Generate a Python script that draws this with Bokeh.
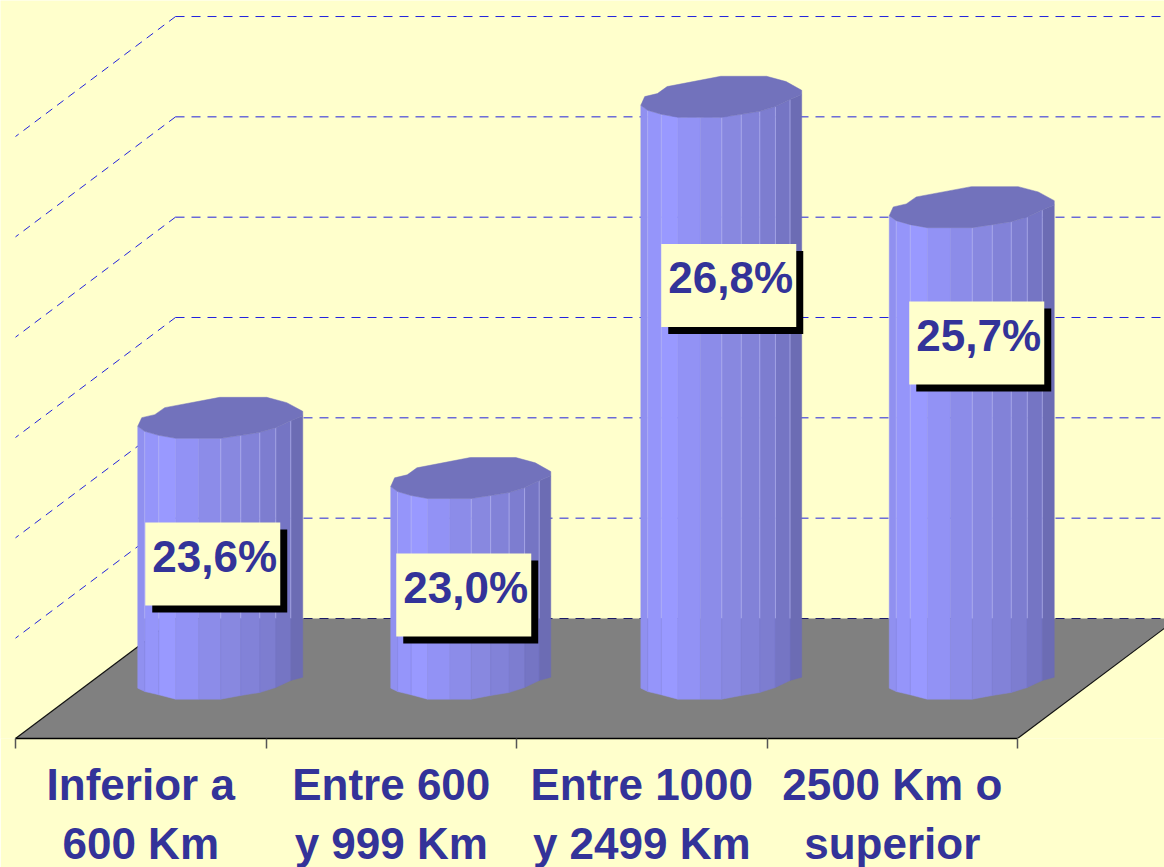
from bokeh.plotting import figure
from bokeh.models import FixedTicker, Range1d
from bokeh.core.properties import value
from bokeh.embed import file_html
from bokeh.resources import INLINE

CATEGORIES = ["Inferior a\n600 Km", "Entre 600\ny 999 Km", "Entre 1000\ny 2499 Km", "2500 Km o\nsuperior"]
VALUES = [23.6, 23.0, 26.8, 25.7]
VALUE_LABELS = ["23,6%", "23,0%", "26,8%", "25,7%"]
GRID_VALUES = [22, 23, 24, 25, 26, 27]
AXIS_FLOOR = 21

# ---- layout (pixels per data unit, and 3D projection) ----
W, H, FRAME_H = 1164, 867, 738
PX_X, PX_Y = 250.5, 100.33
LEFT_PX, FLOOR_BACK_PX = 15, 618
DEPTH_X, DEPTH_Y = 160 / PX_X, 120 / PX_Y
dx = lambda px: px / PX_X
dy = lambda px: px / PX_Y

x0 = -0.5 - dx(LEFT_PX)
x_range = Range1d(x0, x0 + dx(W))
y_top = AXIS_FLOOR + dy(FLOOR_BACK_PX)
y_range = Range1d(y_top - dy(FRAME_H), y_top)

BG = "#FFFFCC"
INK = "#333399"
GRID = "#2222DD"
FONT = value("Liberation Sans")

p = figure(width=W, height=H, frame_width=W, frame_height=FRAME_H, x_range=x_range, y_range=y_range,
           output_backend="svg", toolbar_location=None, background_fill_color=BG, border_fill_color=BG,
           outline_line_color=None, min_border=0, min_border_left=0, min_border_right=0, min_border_top=0,
           min_border_bottom=0, y_axis_location=None)
p.grid.visible = False

n = len(CATEGORIES)
front_left, front_right = -0.5, n - 0.5
floor_front = AXIS_FLOOR - DEPTH_Y

# floor
p.patch([front_left, front_right, front_right + DEPTH_X, front_left + DEPTH_X],
        [floor_front, floor_front, AXIS_FLOOR, AXIS_FLOOR], fill_color="#808080", line_color=None)
p.segment([front_left, front_right], [floor_front] * 2, [front_left + DEPTH_X, front_right + DEPTH_X], [AXIS_FLOOR] * 2,
          line_color="#111111", line_width=1.2)

# walls: dashed gridlines
bx = front_left + DEPTH_X
ex = front_right + DEPTH_X
p.segment([bx] * len(GRID_VALUES), GRID_VALUES, [ex] * len(GRID_VALUES), GRID_VALUES,
          line_color=GRID, line_width=1, line_dash="9 7")
p.segment([bx] * len(GRID_VALUES), GRID_VALUES, [front_left] * len(GRID_VALUES), [v - DEPTH_Y for v in GRID_VALUES],
          line_color=GRID, line_width=1, line_dash="8 6")
p.segment([bx], [AXIS_FLOOR], [ex], [AXIS_FLOOR], line_color="#1B1B66", line_width=1, line_dash="9 7")

# cylinder shape, pixel offsets from the centre of its end ellipses
EDGE_DX = [-83, -76, -62, -45, -22, 0, 20, 39, 55, 70, 82]
TOP_DY = [8.7, 13.7, 17.7, 20.7, 20.7, 20.7, 17.7, 14.7, 10, 3, -2]
BOT_DY = [9.7, 13, 16.3, 20.7, 20.7, 20.7, 17, 14, 9, 2, -1.3]
FACETS = ["#9090F0", "#9595FA", "#9999FF", "#9292F5", "#8C8CE9", "#8888E0", "#8282D8",
          "#7D7DD0", "#7575C4", "#6C6CB4"]
CAP_OUTLINE = [(-83, 8.7), (-79, 0), (-66, -3), (-56, -10), (-1, -20.3), (46, -20.3), (66, -15), (82, -6.3), (82, -2)]
CAP_COLOR = "#7272BC"
SEPARATORS = [1, 2, 5, 6, 7, 8, 9]
SHAPE_SCALE = [1.0, 0.97, 0.975, 1.0]

for i, v in enumerate(VALUES):
    cx = i + DEPTH_X / 2
    base = AXIS_FLOOR - DEPTH_Y / 2
    top = v - DEPTH_Y / 2
    s = SHAPE_SCALE[i]
    ex_px = [cx + dx(e * s) for e in EDGE_DX]
    xs, ys = [], []
    for k in range(len(FACETS)):
        xs.append([ex_px[k], ex_px[k + 1], ex_px[k + 1], ex_px[k]])
        ys.append([top - dy(TOP_DY[k]), top - dy(TOP_DY[k + 1]), base - dy(BOT_DY[k + 1]), base - dy(BOT_DY[k])])
    p.patches(xs, ys, fill_color=FACETS, line_color=FACETS, line_width=0.5)
    # facet seams: light above the back of the floor, faint in front of it
    sep_x = [ex_px[k] for k in SEPARATORS]
    p.segment(sep_x, [top - dy(TOP_DY[k]) for k in SEPARATORS], sep_x, [AXIS_FLOOR] * len(SEPARATORS),
              line_color="#B4B4F4", line_width=1, line_alpha=0.7)
    p.segment(sep_x, [AXIS_FLOOR] * len(SEPARATORS), sep_x, [base - dy(BOT_DY[k]) for k in SEPARATORS],
              line_color="#7C7CD4", line_width=1, line_alpha=0.3)
    cap_x = [cx + dx(a * s) for a, _ in CAP_OUTLINE] + ex_px[::-1]
    cap_y = [top - dy(b) for _, b in CAP_OUTLINE] + [top - dy(TOP_DY[k]) for k in range(len(EDGE_DX) - 1, -1, -1)]
    p.patch(cap_x, cap_y, fill_color=CAP_COLOR, line_color=CAP_COLOR, line_width=0.5)

# value labels: hand-placed boxes with a hard shadow
LABEL_DX = [-8, -7.5, 7, 4.5]          # box centre, px from the cylinder's axis
LABEL_CY = [21.543, 21.234, 24.32, 23.746]  # box centre on the value scale
BOX_W, BOX_H, SHADOW = 135, 83, 7
lx = [i + DEPTH_X / 2 + dx(d) for i, d in enumerate(LABEL_DX)]
p.quad(left=[a - dx(BOX_W / 2 - SHADOW) for a in lx], right=[a + dx(BOX_W / 2 + SHADOW) for a in lx],
       top=[c + dy(BOX_H / 2 - SHADOW) for c in LABEL_CY], bottom=[c - dy(BOX_H / 2 + SHADOW) for c in LABEL_CY],
       fill_color="#000000", line_color=None)
p.quad(left=[a - dx(BOX_W / 2) for a in lx], right=[a + dx(BOX_W / 2) for a in lx],
       top=[c + dy(BOX_H / 2) for c in LABEL_CY], bottom=[c - dy(BOX_H / 2) for c in LABEL_CY],
       fill_color=BG, line_color=None)
p.text([a + dx(2) for a in lx], [c + dy(7.5) for c in LABEL_CY], text=VALUE_LABELS, text_font=FONT,
       text_font_style="bold", text_font_size="44px", text_color=INK, text_align="center",
       text_baseline="alphabetic")

# category axis: labels at the centres, ticks at the boundaries
ax = p.xaxis[0]
ax.bounds = (front_left, front_right)
ax.ticker = FixedTicker(ticks=list(range(n)), minor_ticks=[i - 0.5 for i in range(n + 1)])
ax.major_label_overrides = {i: c for i, c in enumerate(CATEGORIES)}
ax.major_tick_in = ax.major_tick_out = 0
ax.minor_tick_in = 0
ax.minor_tick_out = 10
ax.minor_tick_line_color = "#555555"
ax.minor_tick_line_width = 1.5
ax.axis_line_color = "#000000"
ax.axis_line_width = 1.5
ax.major_label_text_font = "Liberation Sans"
ax.major_label_text_font_style = "bold"
ax.major_label_text_font_size = "44px"
ax.major_label_text_color = INK
ax.major_label_text_line_height = 1.215
ax.major_label_standoff = 11
ax.major_label_orientation = "horizontal"

open("out.html", "w").write(file_html(p, INLINE))
